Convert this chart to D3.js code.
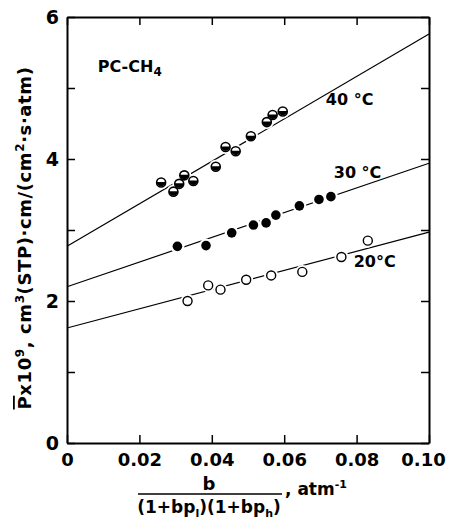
<!DOCTYPE html>
<html>
<head>
<meta charset="utf-8">
<script src="https://cdn.jsdelivr.net/npm/d3@7"></script>
<style>
  body { margin: 0; background: #fff; }
  svg text { font-family: "DejaVu Sans", sans-serif; font-weight: bold; fill: #000; }
  .axis path, .axis line { stroke: #000; }
  .axis path { stroke-width: 2; }
  .axis line { stroke-width: 1.5; }
</style>
</head>
<body>
<div id="chart"></div>
<script>
// ticks
const xTicks = [0, 0.02, 0.04, 0.06, 0.08, 0.10];
const yTicks = [0, 1, 2, 3, 4, 5, 6];
const yLabelled = [0, 2, 4, 6];

// measured points [x, P]
const data40 = [[0.026, 3.67], [0.0294, 3.54], [0.031, 3.65], [0.0324, 3.77], [0.0349, 3.69],
  [0.0411, 3.89], [0.0438, 4.17], [0.0466, 4.11], [0.0508, 4.32], [0.0552, 4.52],
  [0.0568, 4.62], [0.0596, 4.67]];
const data30 = [[0.0305, 2.77], [0.0384, 2.78], [0.0455, 2.96], [0.0515, 3.07], [0.055, 3.10],
  [0.0577, 3.21], [0.0642, 3.34], [0.0696, 3.43], [0.0729, 3.47]];
const data20 = [[0.0333, 2.00], [0.039, 2.22], [0.0424, 2.16], [0.0495, 2.30], [0.0564, 2.36],
  [0.065, 2.41], [0.0758, 2.62], [0.0831, 2.85]];

// fitted lines (end points)
const fit40 = [[0, 2.77], [0.10, 5.76]];
const fit30 = [[0, 2.20], [0.10, 3.94]];
const fit20 = [[0, 1.62], [0.10, 2.97]];

// curve labels [text, x, P]
const curveLabels = [["40 °C", 0.0715, 4.76], ["30 °C", 0.0737, 3.73], ["20°C", 0.0792, 2.48]];

const margin = {top: 17, right: 20, bottom: 79, left: 67},
    width = 449 - margin.left - margin.right,
    height = 522 - margin.top - margin.bottom;

const svg = d3.select("#chart")
    .append("svg")
    .attr("width", width + margin.left + margin.right)
    .attr("height", height + margin.top + margin.bottom)
    .append("g")
    .attr("transform", `translate(${margin.left},${margin.top})`);

const x = d3.scaleLinear().domain([0, 0.10]).range([0, width]);
const y = d3.scaleLinear().domain([0, 6]).range([height, 0]);

// axes, ticks pointing inward on all four sides
svg.append("g").attr("class", "axis")
    .attr("transform", `translate(0,${height})`)
    .call(d3.axisBottom(x).tickValues(xTicks).tickSize(-8).tickSizeOuter(0).tickPadding(10)
        .tickFormat(d => d === 0 ? "0" : d.toFixed(2)))
    .call(g => g.selectAll("text").style("font-size", "18px"))
    .call(g => g.select(".tick:last-of-type text").attr("dx", "-6"));

svg.append("g").attr("class", "axis")
    .call(d3.axisLeft(y).tickValues(yTicks).tickSize(-8).tickSizeOuter(0).tickPadding(8)
        .tickFormat(d => yLabelled.includes(d) ? d : ""))
    .call(g => g.selectAll("text").style("font-size", "19px"));

svg.append("g").attr("class", "axis")
    .call(d3.axisTop(x).tickValues(xTicks).tickSize(-8).tickSizeOuter(0).tickFormat(""));

svg.append("g").attr("class", "axis")
    .attr("transform", `translate(${width},0)`)
    .call(d3.axisRight(y).tickValues(yTicks).tickSize(-8).tickSizeOuter(0).tickFormat(""));

// fitted lines
const line = d3.line().x(d => x(d[0])).y(d => y(d[1]));
[fit40, fit30, fit20].forEach(f => {
    svg.append("path")
        .datum(f)
        .attr("d", line)
        .attr("fill", "none")
        .attr("stroke", "#000")
        .attr("stroke-width", 1.2);
});

const r = 4.5;

// white halos break the lines around the symbols
[data40, data30, data20].forEach(ds => {
    svg.selectAll(null)
        .data(ds)
        .enter()
        .append("circle")
        .attr("cx", d => x(d[0]))
        .attr("cy", d => y(d[1]))
        .attr("r", r + 2.5)
        .attr("fill", "#fff");
});

// 20 C open circles
svg.selectAll(".dot20")
    .data(data20)
    .enter()
    .append("circle")
    .attr("cx", d => x(d[0]))
    .attr("cy", d => y(d[1]))
    .attr("r", r)
    .attr("fill", "#fff")
    .attr("stroke", "#000")
    .attr("stroke-width", 1.4);

// 30 C filled circles
svg.selectAll(".dot30")
    .data(data30)
    .enter()
    .append("circle")
    .attr("cx", d => x(d[0]))
    .attr("cy", d => y(d[1]))
    .attr("r", r + 0.3)
    .attr("fill", "#000");

// 40 C half filled circles
const half = svg.selectAll(".dot40")
    .data(data40)
    .enter()
    .append("g")
    .attr("transform", d => `translate(${x(d[0])},${y(d[1])})`);
half.append("circle")
    .attr("r", r)
    .attr("fill", "#fff")
    .attr("stroke", "#000")
    .attr("stroke-width", 1.6);
half.append("path")
    .attr("d", `M${-r},-0.5 A${r},${r} 0 0 0 ${r},-0.5 Z`)
    .attr("fill", "#000");

// labels inside the plot
const inner = svg.append("text")
    .attr("x", x(0.0085))
    .attr("y", y(5.225))
    .style("font-size", "16px");
inner.append("tspan").text("PC-CH");
inner.append("tspan").attr("dy", 4).style("font-size", "12px").text("4");

curveLabels.forEach(t => {
    svg.append("text")
        .attr("x", x(t[1]))
        .attr("y", y(t[2]))
        .style("font-size", "16px")
        .text(t[0]);
});

// y-axis label
const yl = svg.append("text")
    .attr("transform", `translate(${31 - margin.left},${238 - margin.top}) rotate(-90)`)
    .style("text-anchor", "middle")
    .style("font-size", "18px")
    .style("letter-spacing", "0.6px");
yl.append("tspan").style("text-decoration", "overline").text("P");
yl.append("tspan").text("x10");
yl.append("tspan").attr("dy", -7).style("font-size", "12px").text("9");
yl.append("tspan").attr("dy", 7).text(",  cm");
yl.append("tspan").attr("dy", -7).style("font-size", "12px").text("3");
yl.append("tspan").attr("dy", 7).text("(STP)·cm/(cm");
yl.append("tspan").attr("dy", -7).style("font-size", "12px").text("2");
yl.append("tspan").attr("dy", 7).text("·s·atm)");

// x-axis label, written as a fraction
const cx = 209 - margin.left;
svg.append("text")
    .attr("x", cx)
    .attr("y", 490 - margin.top)
    .style("text-anchor", "middle")
    .style("font-size", "18px")
    .text("b");

svg.append("line")
    .attr("x1", 138 - margin.left)
    .attr("x2", 282 - margin.left)
    .attr("y1", 494 - margin.top)
    .attr("y2", 494 - margin.top)
    .attr("stroke", "#000")
    .attr("stroke-width", 1.5);

const den = svg.append("text")
    .attr("x", cx)
    .attr("y", 513 - margin.top)
    .style("text-anchor", "middle")
    .style("font-size", "17px");
den.append("tspan").text("(1+bp");
den.append("tspan").attr("dy", 4).style("font-size", "11px").text("l");
den.append("tspan").attr("dy", -4).text(")(1+bp");
den.append("tspan").attr("dy", 4).style("font-size", "11px").text("h");
den.append("tspan").attr("dy", -4).text(")");

const unit = svg.append("text")
    .attr("x", 285 - margin.left)
    .attr("y", 495 - margin.top)
    .style("font-size", "17px");
unit.append("tspan").text(",  atm");
unit.append("tspan").attr("dy", -7).style("font-size", "11px").text("-1");
</script>
</body>
</html>
